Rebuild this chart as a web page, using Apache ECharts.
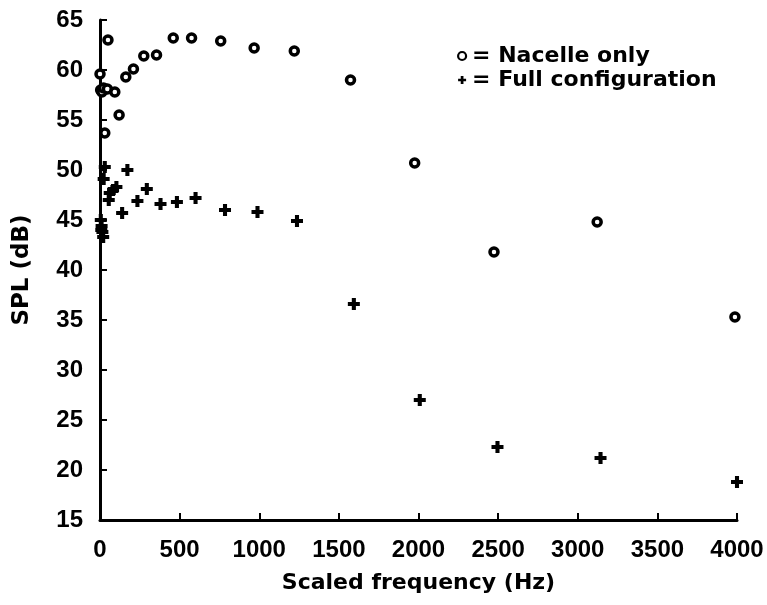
<!DOCTYPE html>
<html>
<head>
<meta charset="utf-8">
<script src="https://cdn.jsdelivr.net/npm/echarts@6/dist/echarts.min.js"></script>
<style>html,body{margin:0;padding:0;background:#fff}#c{width:767px;height:605px}</style>
</head>
<body>
<div id="c"></div>
<script>
const seriesNames = ['Nacelle only', 'Full configuration'];
const xTicks = [0, 500, 1000, 1500, 2000, 2500, 3000, 3500, 4000];
const yTicks = [15, 20, 25, 30, 35, 40, 45, 50, 55, 60, 65];
const nacelleX = [0, 4, 12, 22, 46, 50, 30, 93, 120, 162, 210, 275, 355, 460, 575, 758, 968, 1220, 1573, 1976, 2474, 3122, 3987];
const nacelleY = [59.6, 58.0, 57.8, 58.2, 58.1, 63.0, 53.7, 57.8, 55.5, 59.3, 60.1, 61.4, 61.5, 63.2, 63.2, 62.9, 62.2, 61.9, 59.0, 50.7, 41.8, 44.8, 35.3];
const fullX = [30, 172, 23, 103, 82, 61, 55, 294, 235, 139, 380, 483, 600, 785, 989, 1237, 1594, 2008, 2496, 3143, 4000, 5, 10, 15, 20, 8];
const fullY = [50.3, 50.0, 49.1, 48.3, 48.0, 47.7, 47.0, 48.1, 46.9, 45.7, 46.6, 46.8, 47.2, 46.0, 45.8, 44.9, 36.6, 27.0, 22.3, 21.2, 18.8, 45.0, 44.4, 43.8, 43.3, 44.0];

const LABEL_FONT = 'Liberation Sans';
const NAME_FONT = 'DejaVu Sans';
const plusPath = 'path://M3.3,0 H6.7 V3.3 H10 V6.7 H6.7 V10 H3.3 V6.7 H0 V3.3 H3.3 Z';
const nacelleData = nacelleX.map((x, i) => [x, nacelleY[i]]);
const fullData = fullX.map((x, i) => [x, fullY[i]]);
const labelTxt = {fontFamily: LABEL_FONT, fontWeight: 'bold', fontSize: 24, color: '#000'};
const nameTxt = {fontFamily: NAME_FONT, fontWeight: 'bold', fontSize: 22, color: '#000'};

const chart = echarts.init(document.getElementById('c'), null, {renderer: 'canvas'});
chart.setOption({
  animation: false,
  backgroundColor: '#fff',
  grid: {left: 100, right: 30, top: 20, bottom: 85, containLabel: false},
  legend: {
    orient: 'vertical', left: 457, top: 45, padding: 0, itemGap: 2,
    itemWidth: 8, itemHeight: 8,
    formatter: n => '= ' + n,
    textStyle: Object.assign({}, nameTxt, {padding: [0, 0, 0, 1]}),
    data: [
      {name: seriesNames[0], icon: 'circle', itemStyle: {color: '#fff', borderColor: '#000', borderWidth: 2.2}},
      {name: seriesNames[1], icon: plusPath, itemStyle: {color: '#000', borderWidth: 0}}
    ]
  },
  xAxis: {
    type: 'value', min: xTicks[0], max: xTicks[xTicks.length - 1], interval: 500,
    name: 'Scaled frequency (Hz)', nameLocation: 'middle', nameGap: 52,
    nameTextStyle: nameTxt,
    axisLine: {show: true, lineStyle: {color: '#000', width: 3}},
    axisTick: {show: true, inside: true, length: 7, lineStyle: {color: '#000', width: 2}},
    axisLabel: Object.assign({margin: 18, formatter: v => String(v)}, labelTxt),
    splitLine: {show: false}
  },
  yAxis: {
    type: 'value', min: yTicks[0], max: yTicks[yTicks.length - 1], interval: 5,
    name: 'SPL (dB)', nameLocation: 'middle', nameGap: 66, nameRotate: 90,
    nameTextStyle: Object.assign({}, nameTxt, {fontSize: 23}),
    axisLine: {show: true, lineStyle: {color: '#000', width: 3}},
    axisTick: {show: true, inside: true, length: 7, lineStyle: {color: '#000', width: 2}},
    axisLabel: Object.assign({margin: 17}, labelTxt),
    splitLine: {show: false}
  },
  series: [
    {
      name: seriesNames[0], type: 'scatter', data: nacelleData,
      symbol: 'circle', symbolSize: 8,
      itemStyle: {color: '#fff', borderColor: '#000', borderWidth: 3.5, opacity: 1},
      clip: false
    },
    {
      name: seriesNames[1], type: 'scatter', data: fullData,
      symbol: plusPath, symbolSize: 12,
      itemStyle: {color: '#000', opacity: 1},
      clip: false
    }
  ]
});
</script>
</body>
</html>
